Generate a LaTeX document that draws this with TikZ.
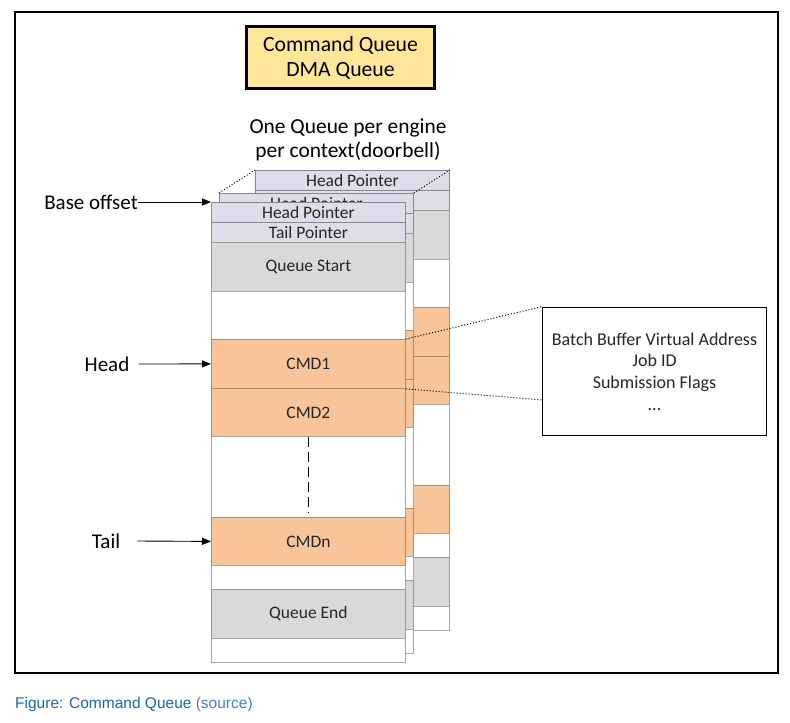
\documentclass[tikz,border=0pt]{standalone}
\usepackage{fontspec}
\setmainfont{Carlito}
\newfontfamily\capfont{Liberation Sans}
\usetikzlibrary{arrows.meta,calc}
\definecolor{ptrfill}{HTML}{E1DCEA}
\definecolor{ptrline}{HTML}{8A8496}
\definecolor{gryfill}{HTML}{D9D9D9}
\definecolor{gryline}{HTML}{999999}
\definecolor{cmdfill}{HTML}{F8C59A}
\definecolor{cmdline}{HTML}{B08B6E}
\definecolor{blankline}{HTML}{A6A6A6}
\definecolor{txt}{HTML}{262626}
\definecolor{titlefill}{HTML}{FFE699}
\definecolor{capblue}{HTML}{1A67A8}
\definecolor{srcblue}{HTML}{3F82C2}
\newcommand\qcell[6]{\node[#5, minimum height=#4pt] (#1) at (#2,#3) {#6};}
% #1 prefix, #2 x, #3 y, #4 1 = print all texts, 0 = only the top one
\newcommand\qcolumn[4]{%
\qcell{#1hp}{#2}{#3}{20}{ptr}{Head Pointer}%
\qcell{#1tp}{#2}{#3+20}{20}{ptr}{\ifnum#4=1 Tail Pointer\fi}%
\qcell{#1qs}{#2}{#3+40}{49}{gry}{\ifnum#4=1 Queue Start\fi}%
\qcell{#1ba}{#2}{#3+89}{48}{blank}{}%
\qcell{#1ca}{#2}{#3+137}{49}{cmd}{\ifnum#4=1 CMD1\fi}%
\qcell{#1cb}{#2}{#3+186}{48}{cmd}{\ifnum#4=1 CMD2\fi}%
\qcell{#1bb}{#2}{#3+234}{81}{blank}{}%
\qcell{#1cn}{#2}{#3+315}{48}{cmd}{\ifnum#4=1 CMDn\fi}%
\qcell{#1bc}{#2}{#3+363}{24}{blank}{}%
\qcell{#1qe}{#2}{#3+387}{49}{gry}{\ifnum#4=1 Queue End\fi}%
\qcell{#1bd}{#2}{#3+436}{24}{blank}{}%
}
\begin{document}
\begin{tikzpicture}[x=1pt,y=-1pt,
  cellbase/.style={draw, line width=0.8pt, minimum width=194pt, inner sep=0pt,
    anchor=north west, font=\fontsize{17.5}{20}\selectfont, text=txt},
  ptr/.style={cellbase, fill=ptrfill, draw=ptrline},
  gry/.style={cellbase, fill=gryfill, draw=gryline},
  cmd/.style={cellbase, fill=cmdfill, draw=cmdline},
  blank/.style={cellbase, fill=white, draw=blankline},
  lbl/.style={inner sep=0pt, font=\fontsize{21}{24}\selectfont, text=black},
  arr/.style={-{Triangle[length=9pt,width=7pt]}, line width=0.9pt},
  dots/.style={dotted, line width=1pt}]
\useasboundingbox (0,0) rectangle (790,723);
\fill[white] (0,0) rectangle (790,723);
\draw[line width=1.2pt] (15,12) rectangle (778,673);

\node[draw, line width=3pt, fill=titlefill, minimum width=188pt, minimum height=62pt,
  align=center, inner sep=0pt, font=\fontsize{21.7}{25}\selectfont] (title) at (340.5,57.5)
  {Command Queue\\DMA Queue};
\node[align=center, inner sep=0pt, font=\fontsize{21.4}{24}\selectfont] (sub) at (348,140)
  {One Queue per engine\\per context(doorbell)};

\qcolumn{b}{255}{170}{0}
\qcolumn{m}{219}{193}{0}
\qcolumn{f}{211}{202}{1}

\draw[line width=1.2pt, dash pattern=on 10pt off 5pt]
  ($(fbb.north)+(0,1)$) -- ($(fbb.south)+(0,-5)$);

\draw[dots] (mhp.north west) -- (bhp.north west);
\draw[dots] (mhp.north east) -- (bhp.north east);

\node[lbl, anchor=east] (base) at (138,202) {Base offset};
\node[lbl] (head) at (107,364) {Head};
\node[lbl] (tail) at (106,541) {Tail};
\draw[arr] (base.east) -- (fhp.north west);
\draw[arr] ([xshift=9pt]head.east) -- (fca.west);
\draw[arr] ([xshift=17pt]tail.east) -- (fcn.west);

\node[draw, line width=1.6pt, minimum width=224pt, minimum height=128pt, align=center,
  inner sep=0pt, font=\fontsize{18}{21.7}\selectfont, text=txt] (details) at (654.5,371.5)
  {Batch Buffer Virtual Address\\Job ID\\Submission Flags\\...};
\coordinate (dlow) at (542,400);
\draw[dots] (fca.north east) -- (details.north west);
\draw[dots] (fca.south east) -- (dlow);

\node[anchor=west, inner sep=0pt, font=\capfont\fontsize{15.5}{18}\selectfont, text=capblue]
  (cap) at (15,704) {Figure: Command Queue \textcolor{srcblue}{(source)}};
\end{tikzpicture}
\end{document}
